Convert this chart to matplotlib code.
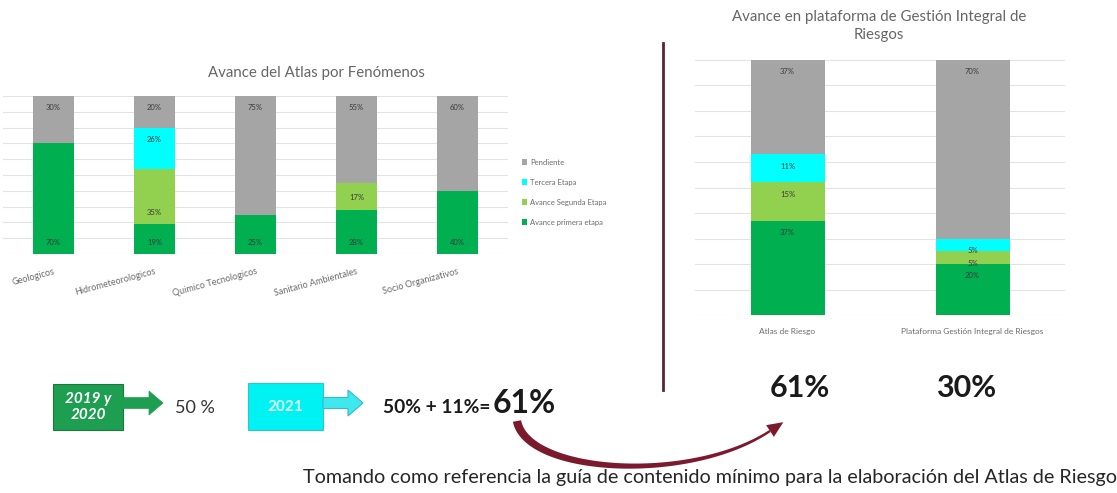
import numpy as np
import matplotlib
matplotlib.use("Agg")
import matplotlib.pyplot as plt
from matplotlib import patches, transforms

W, H = 1117, 493

# ---------------- data ----------------
atlas_categories = ["Geologicos", "Hidrometeorologicos", "Quimico Tecnologicos",
                    "Sanitario Ambientales", "Socio Organizativos"]
atlas_primera = [70, 19, 25, 28, 40]
atlas_segunda = [0, 35, 0, 17, 0]
atlas_tercera = [0, 26, 0, 0, 0]
atlas_pendiente = [30, 20, 75, 55, 60]

gir_categories = ["Atlas de Riesgo", "Plataforma Gestión Integral de Riesgos"]
gir_primera = [37, 20]
gir_segunda = [15, 5]
gir_tercera = [11, 5]
gir_pendiente = [37, 70]

series_names = ["Avance primera etapa", "Avance Segunda Etapa", "Tercera Etapa", "Pendiente"]
series_colors = ["#00B050", "#92D050", "#00FFFF", "#A5A5A5"]

summary_total = "61%"
summary_platform = "30%"

plt.rcParams['font.family'] = ['Lato', 'DejaVu Sans']

fig = plt.figure(figsize=(W / 100, H / 100), dpi=100)
pix = transforms.Affine2D().scale(1 / W, -1 / H).translate(0, 1) + fig.transFigure


def stacked(ax, cats, series, anchors, label_fs):
    x = np.arange(len(cats))
    bottom = np.zeros(len(cats))
    handles = []
    for vals, name, col, anc in zip(series, series_names, series_colors, anchors):
        vals = np.array(vals, float)
        bars = ax.bar(x, vals, 0.4, bottom=bottom, color=col, label=name, zorder=2)
        handles.append(bars)
        for xi, b, v in zip(x, bottom, vals):
            if v <= 0:
                continue
            if anc == 'top':
                y, off = b + v, -8.6
            else:
                y, off = b, 8.6
            ax.annotate(f"{v:.0f}%", (xi, y), xytext=(0, off), textcoords='offset points',
                        ha='center', va='center', fontsize=label_fs, color='#3a3a3a', zorder=3)
        bottom += vals
    ax.set_ylim(0, 100)
    ax.set_xlim(-0.5, len(cats) - 0.5)
    ax.set_yticks(np.arange(0, 101, 10))
    ax.yaxis.grid(True, color='#E3E3E3', lw=0.8, zorder=0)
    ax.set_axisbelow(True)
    ax.tick_params(left=False, labelleft=False, bottom=False)
    for s in ax.spines.values():
        s.set_visible(False)
    ax.set_xticks(x)
    return handles


# ---------------- left chart ----------------
axL = fig.add_axes([3 / W, 1 - 254 / H, 505 / W, 158 / H])
hL = stacked(axL, atlas_categories,
             [atlas_primera, atlas_segunda, atlas_tercera, atlas_pendiente],
             ['bottom', 'bottom', 'top', 'top'], 5.5)
axL.set_xticklabels(atlas_categories, rotation=15, ha='right', rotation_mode='anchor',
                    fontsize=6.5, color='#6b6b6b')
axL.tick_params(axis='x', pad=6)
fig.text(316 / W, 1 - 73 / H, "Avance del Atlas por Fenómenos", ha='center', va='center',
         fontsize=10.8, color='#666666')
fig.legend(hL[::-1], series_names[::-1], loc='upper left', bbox_to_anchor=(518 / W, 1 - 155 / H),
           frameon=False, fontsize=5.5, labelcolor='#6b6b6b', handlelength=0.7, handleheight=0.7,
           handletextpad=0.4, labelspacing=1.7, borderpad=0)

# ---------------- right chart ----------------
axR = fig.add_axes([695 / W, 1 - 315 / H, 370 / W, 255 / H])
stacked(axR, gir_categories, [gir_primera, gir_segunda, gir_tercera, gir_pendiente],
        ['top', 'top', 'top', 'top'], 5.5)
axR.set_xticklabels(gir_categories, fontsize=6, color='#6b6b6b')
axR.tick_params(axis='x', pad=6)
fig.text(879 / W, 1 - 26 / H, "Avance en plataforma de Gestión Integral de\nRiesgos",
         ha='center', va='center', fontsize=10.8, color='#666666', linespacing=1.4)

# divider
fig.add_artist(plt.Line2D([663, 663], [43, 390], transform=pix, color='#5B2333', lw=2))

# ---------------- bottom row ----------------
green = '#1E9E50'
fig.add_artist(patches.Rectangle((53, 384), 70, 46, transform=pix, facecolor=green,
                                 edgecolor='#177a3d', lw=0.8))
fig.text(88 / W, 1 - 407 / H, "2019 y\n2020", ha='center', va='center', fontsize=11,
         fontweight='bold', style='italic', color='white', linespacing=1.15)
fig.add_artist(patches.FancyArrow(123, 403, 40, 0, width=11, head_width=24, head_length=14,
                                  length_includes_head=True, transform=pix, facecolor=green,
                                  edgecolor=green, lw=0.5))
fig.text(175 / W, 1 - 413 / H, "50 %", ha='left', va='baseline', fontsize=13, color='#333333')

cyan = '#00F2F2'
fig.add_artist(patches.Rectangle((248, 383), 75, 47, transform=pix, facecolor=cyan,
                                 edgecolor='#2fc4d4', lw=0.8))
fig.text(285.5 / W, 1 - 407 / H, "2021", ha='center', va='center', fontsize=11,
         fontweight='bold', color='#e6ffff')
fig.add_artist(patches.FancyArrow(323, 403, 40, 0, width=11, head_width=26, head_length=15,
                                  length_includes_head=True, transform=pix, facecolor='#3fe8ec',
                                  edgecolor='#35b9cc', lw=0.8))

fig.text(383 / W, 1 - 413 / H, "50% + 11%=", ha='left', va='baseline', fontsize=13.8,
         fontweight='bold', color='#1a1a1a')
fig.text(493 / W, 1 - 413 / H, summary_total, ha='left', va='baseline', fontsize=23,
         fontweight='bold', color='#1a1a1a')

fig.text(800 / W, 1 - 397 / H, summary_total, ha='center', va='baseline', fontsize=22,
         fontweight='bold', color='#1a1a1a')
fig.text(966 / W, 1 - 397 / H, summary_platform, ha='center', va='baseline', fontsize=22,
         fontweight='bold', color='#1a1a1a')

# curved tapered arrow
P0, C1, C2, P3 = map(np.array, [(517, 421), (527, 474), (690, 484), (770, 431)])
t = np.linspace(0, 1, 80)[:, None]
B = (1 - t) ** 3 * P0 + 3 * (1 - t) ** 2 * t * C1 + 3 * (1 - t) * t ** 2 * C2 + t ** 3 * P3
D = 3 * (1 - t) ** 2 * (C1 - P0) + 6 * (1 - t) * t * (C2 - C1) + 3 * t ** 2 * (P3 - C2)
T = D / np.linalg.norm(D, axis=1)[:, None]
N = np.column_stack([-T[:, 1], T[:, 0]])
hw = 4.2 * (1 - t) + 1.2 * t
poly = np.vstack([B + N * hw, (B - N * hw)[::-1]])
maroon = '#7A1A2C'
fig.add_artist(patches.Polygon(poly, closed=True, transform=pix, facecolor=maroon, edgecolor='none'))
te, ne = T[-1], N[-1]
head = np.array([P3 + te * 16, P3 + ne * 7, P3 - ne * 7])
fig.add_artist(patches.Polygon(head, closed=True, transform=pix, facecolor=maroon, edgecolor='none'))

fig.text(303 / W, 1 - 478 / H,
         "Tomando como referencia la guía de contenido mínimo para la elaboración del Atlas de Riesgo",
         ha='left', va='center', fontsize=14.2, color='#262626')

fig.savefig("out.png", dpi=100)
